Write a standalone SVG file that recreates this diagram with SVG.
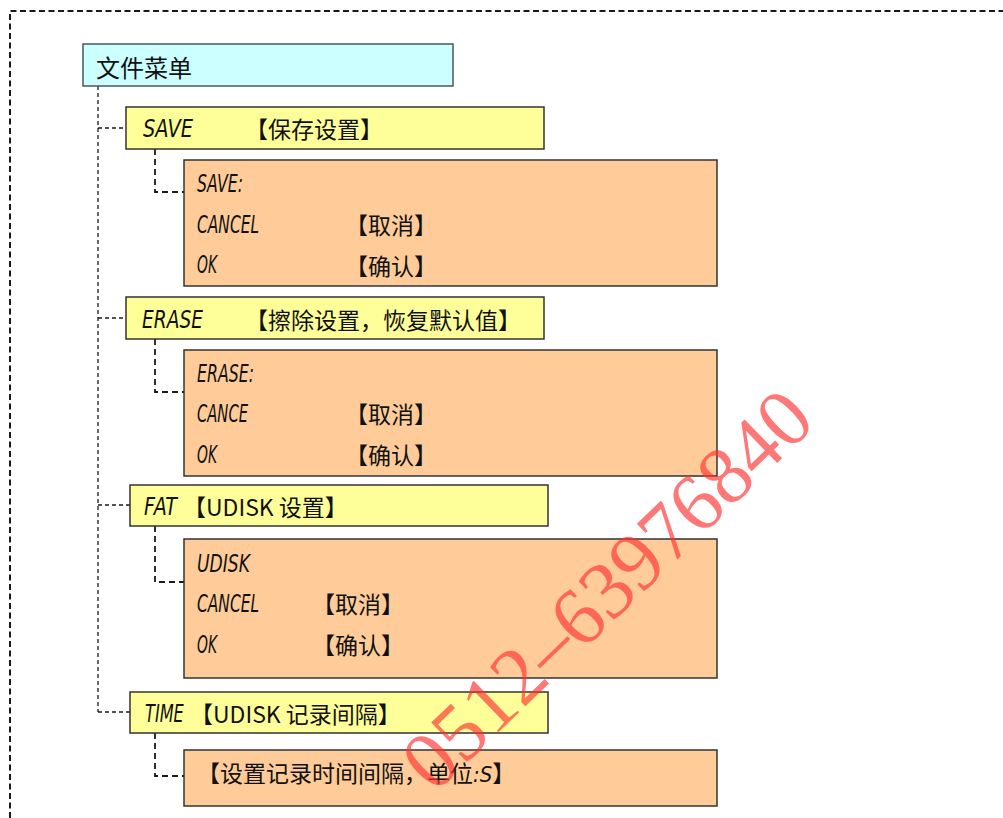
<svg xmlns="http://www.w3.org/2000/svg" width="1003" height="818" viewBox="0 0 1003 818">
<style>
.box{stroke:#333;stroke-width:1.5}
.cyan{fill:#CCFFFF;stroke:#4a5858}
.yellow{fill:#FFFF99}
.orange{fill:#FFCC99}
.cjk{font-family:"Noto Sans CJK SC","Noto Sans",sans-serif;font-size:23px;fill:#111}
.lcd{font-family:"DejaVu Sans Condensed","DejaVu Sans",sans-serif;font-style:italic;font-weight:200;font-size:25px;fill:#111}
.trunk{fill:none;stroke:#1a1a1a;stroke-width:1.3;stroke-dasharray:4 3}
.sub{fill:none;stroke:#1a1a1a;stroke-width:1.8;stroke-dasharray:6 4}
.outer{fill:none;stroke:#1a1a1a;stroke-width:2;stroke-dasharray:6 3.5}
.wm{font-family:"Liberation Serif",serif;font-size:82px;fill:#FF3030;fill-opacity:0.65}
</style>
<path class="outer" d="M10,818 V11 H1003"/>
<g id="connectors">
<path class="trunk" d="M98,86 V712 M98,128 H126 M98,318 H126 M98,505 H130 M98,712 H130"/>
<path class="sub" d="M155,149 V192 H184 M155,339 V392 H184 M155,526 V582 H184 M155,733 V776 H184"/>
</g>
<g id="n-file">
<rect class="box cyan" x="83" y="44" width="370" height="42"/>
<text class="cjk" x="96" y="77" style="font-size:24px">文件菜单</text>
</g>
<g id="n-save">
<rect class="box yellow" x="126" y="107" width="418" height="42"/>
<text class="lcd" x="143" y="137" textLength="50" lengthAdjust="spacingAndGlyphs">SAVE</text>
<text class="cjk" x="245" y="138">【保存设置】</text>
</g>
<g id="n-save-menu">
<rect class="box orange" x="184" y="160" width="533" height="126"/>
<text class="lcd" x="197" y="192" textLength="46" lengthAdjust="spacingAndGlyphs">SAVE:</text>
<text class="lcd" x="197" y="233" textLength="62" lengthAdjust="spacingAndGlyphs">CANCEL</text>
<text class="cjk" x="345" y="234">【取消】</text>
<text class="lcd" x="197" y="273" textLength="20" lengthAdjust="spacingAndGlyphs">OK</text>
<text class="cjk" x="345" y="275">【确认】</text>
</g>
<g id="n-erase">
<rect class="box yellow" x="126" y="297" width="418" height="42"/>
<text class="lcd" x="142" y="328" textLength="61" lengthAdjust="spacingAndGlyphs">ERASE</text>
<text class="cjk" x="245" y="329">【擦除设置，恢复默认值】</text>
</g>
<g id="n-erase-menu">
<rect class="box orange" x="184" y="350" width="533" height="126"/>
<text class="lcd" x="197" y="382" textLength="57" lengthAdjust="spacingAndGlyphs">ERASE:</text>
<text class="lcd" x="197" y="422" textLength="51" lengthAdjust="spacingAndGlyphs">CANCE</text>
<text class="cjk" x="345" y="423">【取消】</text>
<text class="lcd" x="197" y="463" textLength="20" lengthAdjust="spacingAndGlyphs">OK</text>
<text class="cjk" x="345" y="464">【确认】</text>
</g>
<g id="n-fat">
<rect class="box yellow" x="130" y="485" width="418" height="41"/>
<text class="lcd" x="144" y="515" textLength="33" lengthAdjust="spacingAndGlyphs">FAT</text>
<text class="cjk" x="183" y="516">【UDISK 设置】</text>
</g>
<g id="n-fat-menu">
<rect class="box orange" x="184" y="539" width="533" height="139"/>
<text class="lcd" x="197" y="572" textLength="53" lengthAdjust="spacingAndGlyphs">UDISK</text>
<text class="lcd" x="197" y="612" textLength="62" lengthAdjust="spacingAndGlyphs">CANCEL</text>
<text class="cjk" x="312" y="613">【取消】</text>
<text class="lcd" x="197" y="653" textLength="20" lengthAdjust="spacingAndGlyphs">OK</text>
<text class="cjk" x="312" y="654">【确认】</text>
</g>
<g id="n-time">
<rect class="box yellow" x="130" y="692" width="418" height="41"/>
<text class="lcd" transform="translate(145,722) scale(0.72,1)">TIME</text>
<text class="cjk" x="190" y="723">【UDISK 记录间隔】</text>
</g>
<g id="n-time-menu">
<rect class="box orange" x="184" y="750" width="533" height="56"/>
<text class="cjk" x="197" y="782">【设置记录时间间隔，单位<tspan class="lcd" style="font-size:22px">:S</tspan>】</text>
</g>
<text class="wm" transform="translate(626,609) rotate(-44)" text-anchor="middle">0512–63976840</text>
</svg>
